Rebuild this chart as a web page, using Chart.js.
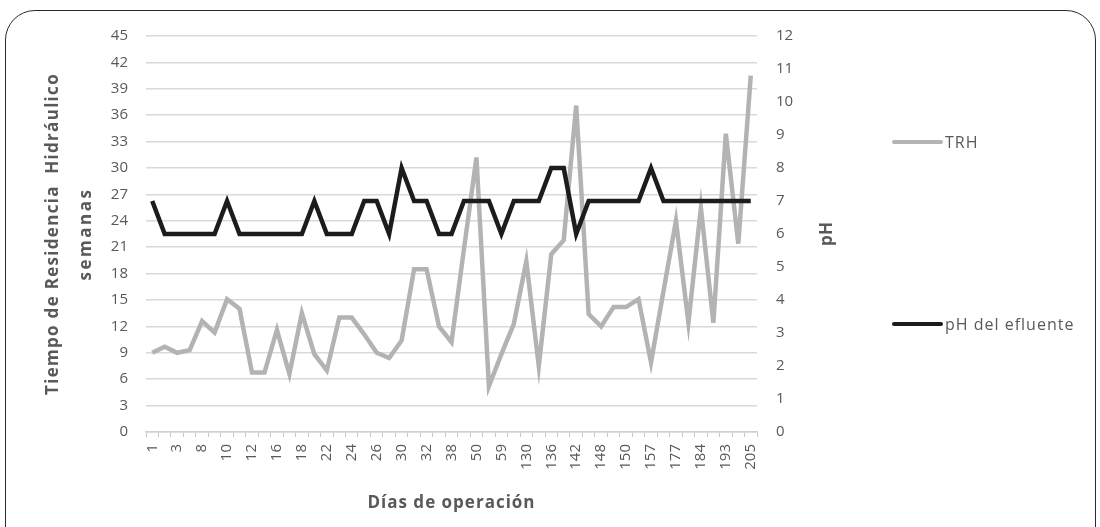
<!DOCTYPE html>
<html>
<head>
<meta charset="utf-8">
<script src="https://cdn.jsdelivr.net/npm/chart.js@4"></script>
<style>
  body { margin: 0; background: #fff; overflow: hidden; font-family: "Open Sans", sans-serif; }
  #wrap { position: relative; width: 1100px; height: 527px; overflow: hidden; }
  #frame { position: absolute; left: 5px; top: 10px; width: 1089px; height: 560px;
           border: 1.4px solid #2b2b2b; border-radius: 30px; }
  canvas { position: absolute; left: 0; top: 0; }
  .leg { position: absolute; left: 892px; display: flex; align-items: center;
         font-size: 16px; letter-spacing: 1px; color: #595959; }
  .leg span.sw { display: inline-block; width: 51px; height: 4px; border-radius: 2px; margin-right: 2px; }
</style>
</head>
<body>
<div id="wrap">
  <div id="frame"></div>
  <canvas id="myChart" width="1100" height="527"></canvas>
  <div id="legend"></div>
</div>
<script>
// dias de operacion (only every second one is labelled on the axis)
const dias = ['1','2','3','5','8','9','10','11','12','15','16','17','18','19','22','23','24','25','26','29',
  '30','31','32','36','38','45','50','55','59','120','130','133','136','139','142','145','148','149','150','153',
  '157','170','177','180','184','190','193','200','205'];

// tiempo de residencia hidraulico (semanas)
const trh = [9.0, 9.7, 9.0, 9.3, 12.6, 11.3, 15.1, 14.0, 6.75, 6.75,
  11.6, 6.6, 13.5, 8.85, 7.0, 13.0, 13.0, 11.1, 9.0, 8.4,
  10.4, 18.5, 18.5, 12.0, 10.2, 20.8, 31.2, 5.2, 8.85, 12.3,
  19.4, 7.5, 20.2, 21.8, 37.1, 13.4, 12.0, 14.2, 14.2, 15.1,
  7.9, 16.0, 24.0, 12.4, 25.5, 12.4, 33.9, 21.4, 40.5];

// pH del efluente
const ph = [7, 6, 6, 6, 6, 6, 7, 6, 6, 6, 6, 6, 6, 7, 6, 6, 6, 7, 7, 6,
  8, 7, 7, 6, 6, 7, 7, 7, 6, 7, 7, 7, 8, 8, 6, 7, 7, 7, 7, 7,
  8, 7, 7, 7, 7, 7, 7, 7, 7];

const leftTitle = ['Tiempo de Residencia  Hidráulico', 'semanas'];
const rightTitle = 'pH';
const xTitle = 'Días de operación';

const grey = '#595959';

// axis titles drawn by hand: excel spaces the letters out and reads both vertical ones bottom to top
const axisTitles = {
  id: 'axisTitles',
  afterDraw(chart) {
    const {ctx, chartArea} = chart;
    const midY = (chartArea.top + chartArea.bottom) / 2;
    const midX = (chartArea.left + chartArea.right) / 2;
    const draw = (text, x, y, rot) => {
      ctx.save();
      ctx.translate(x, y);
      ctx.rotate(rot);
      ctx.fillText(text, 0, 0);
      ctx.restore();
    };
    ctx.save();
    ctx.fillStyle = grey;
    ctx.font = 'bold 17px "Open Sans"';
    ctx.textAlign = 'center';
    ctx.textBaseline = 'middle';
    ctx.letterSpacing = '1.3px';
    draw(leftTitle[0], chartArea.left - 93, midY, -Math.PI / 2);
    ctx.letterSpacing = '2.5px';
    draw(leftTitle[1], chartArea.left - 60, midY, -Math.PI / 2);
    ctx.letterSpacing = '0px';
    draw(rightTitle, chartArea.right + 70, midY, -Math.PI / 2);
    ctx.letterSpacing = '1px';
    draw(xTitle, midX, 503, 0);
    ctx.restore();
  }
};

var ctx = document.getElementById('myChart').getContext('2d');
var myChart = new Chart(ctx, {
  type: 'line',
  data: {
    labels: dias,
    datasets: [
      {
        label: 'TRH',
        data: trh,
        yAxisID: 'y',
        borderColor: '#b3b3b3',
        borderWidth: 4.5,
        pointRadius: 0,
        tension: 0,
        order: 2
      },
      {
        label: 'pH del efluente',
        data: ph,
        yAxisID: 'y1',
        borderColor: '#1c1c1c',
        borderWidth: 4.5,
        pointRadius: 0,
        tension: 0,
        order: 1
      }
    ]
  },
  options: {
    responsive: false,
    animation: false,
    layout: { padding: { left: 0, right: 253, top: 36, bottom: 0 } },
    plugins: {
      legend: { display: false },
      tooltip: { enabled: false }
    },
    scales: {
      x: {
        offset: true,
        grid: { display: true, drawOnChartArea: false, offset: true, tickLength: 5, color: '#c8c8c8', lineWidth: 1 },
        border: { display: true, color: '#d0d0d0', width: 1.5 },
        ticks: {
          autoSkip: false, maxRotation: 90, minRotation: 90, padding: 7,
          color: grey, font: { family: 'Open Sans', size: 15 },
          callback: function (value, index) { return index % 2 === 0 ? this.getLabelForValue(value) : ''; }
        },
        afterFit: (scale) => { scale.height = 95; }
      },
      y: {
        position: 'left',
        min: 0, max: 45,
        ticks: { stepSize: 3, padding: 18, color: grey, font: { family: 'Open Sans', size: 15 } },
        grid: { color: '#d9d9d9', lineWidth: 1.5, drawTicks: false },
        border: { display: false },
        afterFit: (scale) => { scale.width = 146; }
      },
      y1: {
        position: 'right',
        min: 0, max: 12,
        ticks: { stepSize: 1, padding: 19, color: grey, font: { family: 'Open Sans', size: 15 } },
        grid: { drawOnChartArea: false, drawTicks: false },
        border: { display: false },
        afterFit: (scale) => { scale.width = 90; }
      }
    }
  },
  plugins: [axisTitles]
});

// legend spread down the right side like the original
const legendTops = [143, 325];
myChart.data.datasets.forEach((ds, i) => {
  const item = document.createElement('div');
  item.className = 'leg';
  item.style.top = (legendTops[i] - 12) + 'px';
  item.innerHTML = '<span class="sw" style="background:' + ds.borderColor + '"></span>' + ds.label;
  document.getElementById('legend').appendChild(item);
});
</script>
</body>
</html>
